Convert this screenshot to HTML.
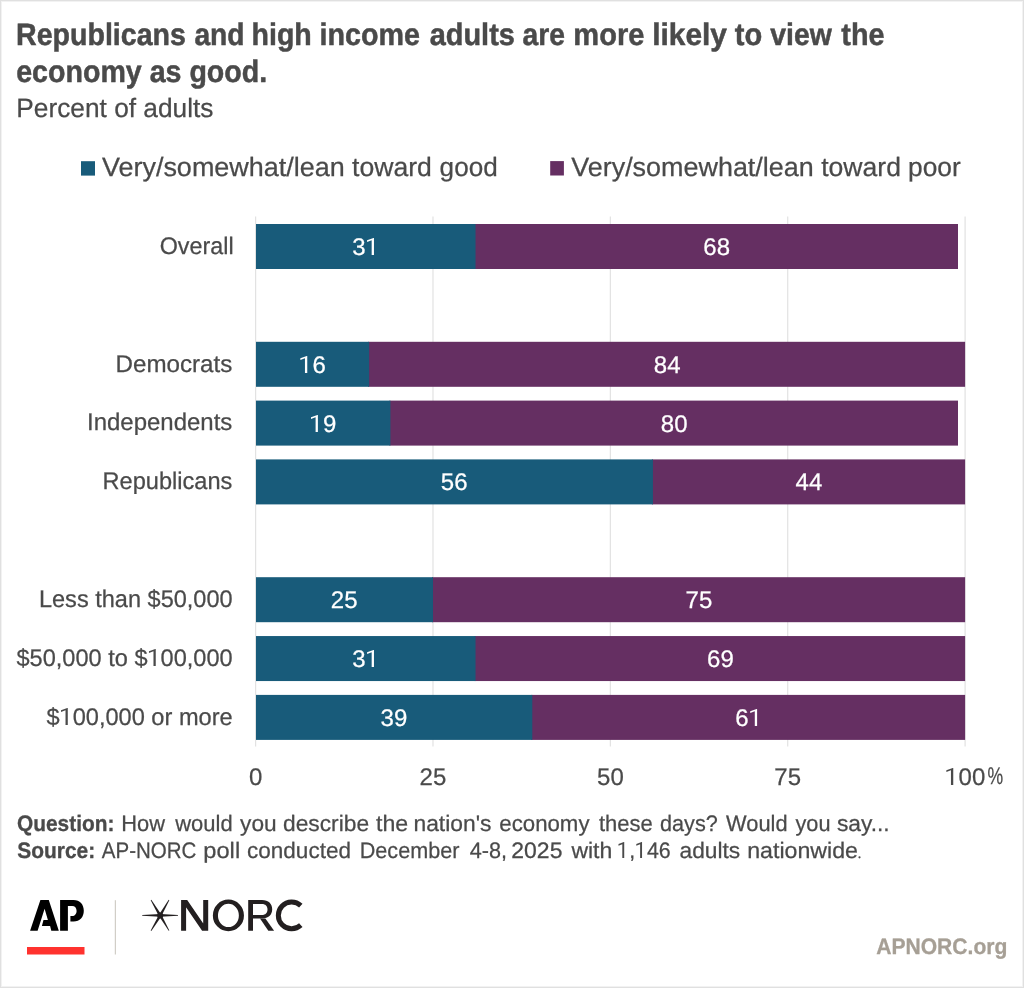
<!DOCTYPE html>
<html><head><meta charset="utf-8"><title>Republicans and high income adults are more likely to view the economy as good.</title><style>
html,body{margin:0;padding:0;background:#fff;}
body{width:1024px;height:988px;overflow:hidden;position:relative;}
svg{position:absolute;left:0;top:0;font-family:"Liberation Sans",sans-serif;text-rendering:geometricPrecision;will-change:transform;}
.frame{position:absolute;left:0;top:0;width:1024px;height:988px;box-shadow:inset 0 0 0 1px #e0e0e0, inset 0 0 0 2px #f2f2f2;}
</style></head><body>
<svg width="1024" height="988" viewBox="0 0 1024 988">
<rect x="255.00" y="216.5" width="1.2" height="530" fill="#e2e2e2"/>
<rect x="432.38" y="216.5" width="1.2" height="530" fill="#e2e2e2"/>
<rect x="609.75" y="216.5" width="1.2" height="530" fill="#e2e2e2"/>
<rect x="787.12" y="216.5" width="1.2" height="530" fill="#e2e2e2"/>
<rect x="964.50" y="216.5" width="1.2" height="530" fill="#e2e2e2"/>
<rect x="474.54" y="224.0" width="483.46" height="45" fill="#652f62"/>
<rect x="256.0" y="224.0" width="219.54" height="45" fill="#185b7a"/>
<rect x="368.12" y="341.8" width="596.98" height="45" fill="#652f62"/>
<rect x="256.0" y="341.8" width="113.12" height="45" fill="#185b7a"/>
<rect x="389.40" y="400.6" width="568.60" height="45" fill="#652f62"/>
<rect x="256.0" y="400.6" width="134.40" height="45" fill="#185b7a"/>
<rect x="651.92" y="459.4" width="313.18" height="45" fill="#652f62"/>
<rect x="256.0" y="459.4" width="396.92" height="45" fill="#185b7a"/>
<rect x="431.98" y="577.2" width="533.12" height="45" fill="#652f62"/>
<rect x="256.0" y="577.2" width="176.98" height="45" fill="#185b7a"/>
<rect x="474.54" y="636.05" width="490.56" height="45" fill="#652f62"/>
<rect x="256.0" y="636.05" width="219.54" height="45" fill="#185b7a"/>
<rect x="531.30" y="694.9" width="433.80" height="45" fill="#652f62"/>
<rect x="256.0" y="694.9" width="276.30" height="45" fill="#185b7a"/>
<rect x="81" y="161.2" width="14" height="14.4" fill="#185b7a"/>
<rect x="550.2" y="161.1" width="13.7" height="14.4" fill="#652f62"/>
<path d="M30.1,930.7 L40.4,900.1 L48.8,900.1 L58.8,930.7 L51.3,930.7 L50.1,925.9 L41.9,925.9 L43.5,920.1 L47.9,920.1 L44.6,908.8 L37.6,930.7 Z" fill="#000"/>
<path d="M60.1,900.1 L73.5,900.1 C80,900.1 83.8,904.5 83.8,910.85 C83.8,917.2 80,921.6 73.5,921.6 L70.4,921.6 L70.4,915.9 L72.25,915.9 C74.8,915.9 76.6,913.8 76.6,910.9 C76.6,908 74.8,906 72.25,906 L67.9,906 L67.9,930.7 L60.1,930.7 Z" fill="#000"/>
<rect x="27" y="947" width="57.5" height="7.5" fill="#ff322e"/>
<rect x="114.8" y="900.2" width="1.1" height="54.3" fill="#cdc9c1"/>
<polygon points="160.20,914.05 142.20,915.05 142.20,915.75 160.20,916.75" fill="#231f20"/>
<polygon points="160.20,916.75 178.00,915.75 178.00,915.05 160.20,914.05" fill="#231f20"/>
<polygon points="161.44,914.66 151.30,899.82 150.70,900.18 158.96,916.14" fill="#231f20"/>
<polygon points="161.46,916.12 169.30,900.17 168.70,899.83 158.94,914.68" fill="#231f20"/>
<polygon points="158.96,914.65 150.70,930.52 151.30,930.88 161.44,916.15" fill="#231f20"/>
<polygon points="158.94,916.12 168.70,930.87 169.30,930.53 161.46,914.68" fill="#231f20"/>
<circle cx="160.2" cy="915.4" r="3.0" fill="#231f20"/>
<path d="M181.1,900 L186.1,900 L186.1,930.8 L181.1,930.8 Z M203.2,900 L208.2,900 L208.2,930.8 L203.2,930.8 Z M181.1,900 L187.2,900 L208.2,930.8 L202.1,930.8 Z" fill="#231f20"/>
<path d="M212.86,915.38 A15.55,15.83 0 1 0 243.96,915.38 A15.55,15.83 0 1 0 212.86,915.38 Z M217.96,915.45 A10.45,11.6 0 1 0 238.86,915.45 A10.45,11.6 0 1 0 217.96,915.45 Z" fill="#231f20" fill-rule="evenodd"/>
<path d="M248.2,900.1 L262,900.1 C268.5,900.1 272.2,903.8 272.2,909.35 C272.2,915 268.3,918.6 262,918.6 L253.0,918.6 L253.0,930.7 L248.2,930.7 Z M253.0,904.1 L253.0,915 L262,915 C265.4,915 267.5,912.8 267.5,909.5 C267.5,906.2 265.4,904.1 262,904.1 Z" fill="#231f20" fill-rule="evenodd"/>
<path d="M260,918.4 L265.4,918.4 L274.1,930.7 L268.3,930.7 Z" fill="#231f20"/>
<path d="M300.80,905.64 A13.35,13.35 0 1 0 300.80,925.16" fill="none" stroke="#231f20" stroke-width="5"/>
<circle cx="859.5" cy="857.3" r="1.1" fill="#4a4a4a"/>
<text transform="translate(16.18,82.00) scale(0.9223,1)" font-size="31" font-weight="bold" fill="#4a4a4a" stroke="#4a4a4a" stroke-width="0.5">economy as good.</text>
<text transform="translate(16.32,117.00) scale(0.9913,1)" font-size="26.5" font-weight="normal" fill="#4a4a4a" stroke="#4a4a4a" stroke-width="0.25">Percent of adults</text>
<text transform="translate(17.00,831.00) scale(0.9327,1)" font-size="22.4" font-weight="bold" fill="#4a4a4a" stroke="#4a4a4a" stroke-width="0.3">Question:</text>
<text transform="translate(17.20,858.00) scale(0.9352,1)" font-size="22.4" font-weight="bold" fill="#4a4a4a" stroke="#4a4a4a" stroke-width="0.3">Source:</text>
<text transform="translate(876.20,954.00) scale(0.9413,1)" font-size="22.4" font-weight="bold" fill="#a69f95" stroke="#a69f95" stroke-width="0.3">APNORC.org</text>
<text transform="translate(16.02,45.00) scale(0.9214,1)" font-size="31" font-weight="bold" fill="#4a4a4a" stroke="#4a4a4a" stroke-width="0.5">Republicans</text>
<text transform="translate(194.40,45.00) scale(0.9102,1)" font-size="31" font-weight="bold" fill="#4a4a4a" stroke="#4a4a4a" stroke-width="0.5">and</text>
<text transform="translate(251.56,45.00) scale(0.9202,1)" font-size="31" font-weight="bold" fill="#4a4a4a" stroke="#4a4a4a" stroke-width="0.5">high</text>
<text transform="translate(319.55,45.00) scale(0.9248,1)" font-size="31" font-weight="bold" fill="#4a4a4a" stroke="#4a4a4a" stroke-width="0.5">income</text>
<text transform="translate(429.70,45.00) scale(0.9328,1)" font-size="31" font-weight="bold" fill="#4a4a4a" stroke="#4a4a4a" stroke-width="0.5">adults</text>
<text transform="translate(522.50,45.00) scale(0.9114,1)" font-size="31" font-weight="bold" fill="#4a4a4a" stroke="#4a4a4a" stroke-width="0.5">are</text>
<text transform="translate(573.33,45.00) scale(0.9366,1)" font-size="31" font-weight="bold" fill="#4a4a4a" stroke="#4a4a4a" stroke-width="0.5">more</text>
<text transform="translate(652.27,45.00) scale(0.9631,1)" font-size="31" font-weight="bold" fill="#4a4a4a" stroke="#4a4a4a" stroke-width="0.5">likely</text>
<text transform="translate(734.70,45.00) scale(0.9374,1)" font-size="31" font-weight="bold" fill="#4a4a4a" stroke="#4a4a4a" stroke-width="0.5">to</text>
<text transform="translate(770.25,45.00) scale(0.9142,1)" font-size="31" font-weight="bold" fill="#4a4a4a" stroke="#4a4a4a" stroke-width="0.5">view</text>
<text transform="translate(841.35,45.00) scale(0.9285,1)" font-size="31" font-weight="bold" fill="#4a4a4a" stroke="#4a4a4a" stroke-width="0.5">the</text>
<text transform="translate(121.32,831.00) scale(0.9771,1)" font-size="22.4" font-weight="normal" fill="#4a4a4a" stroke="#4a4a4a" stroke-width="0.25">How</text>
<text transform="translate(175.23,831.00) scale(0.9822,1)" font-size="22.4" font-weight="normal" fill="#4a4a4a" stroke="#4a4a4a" stroke-width="0.25">would</text>
<text transform="translate(240.10,831.00) scale(1.0130,1)" font-size="22.4" font-weight="normal" fill="#4a4a4a" stroke="#4a4a4a" stroke-width="0.25">you</text>
<text transform="translate(283.00,831.00) scale(1.0169,1)" font-size="22.4" font-weight="normal" fill="#4a4a4a" stroke="#4a4a4a" stroke-width="0.25">describe</text>
<text transform="translate(376.00,831.00) scale(1.0335,1)" font-size="22.4" font-weight="normal" fill="#4a4a4a" stroke="#4a4a4a" stroke-width="0.25">the</text>
<text transform="translate(413.48,831.00) scale(1.0195,1)" font-size="22.4" font-weight="normal" fill="#4a4a4a" stroke="#4a4a4a" stroke-width="0.25">nation's</text>
<text transform="translate(499.30,831.00) scale(0.9928,1)" font-size="22.4" font-weight="normal" fill="#4a4a4a" stroke="#4a4a4a" stroke-width="0.25">economy</text>
<text transform="translate(598.90,831.00) scale(0.9812,1)" font-size="22.4" font-weight="normal" fill="#4a4a4a" stroke="#4a4a4a" stroke-width="0.25">these</text>
<text transform="translate(660.00,831.00) scale(0.9663,1)" font-size="22.4" font-weight="normal" fill="#4a4a4a" stroke="#4a4a4a" stroke-width="0.25">days?</text>
<text transform="translate(726.10,831.00) scale(0.9743,1)" font-size="22.4" font-weight="normal" fill="#4a4a4a" stroke="#4a4a4a" stroke-width="0.25">Would</text>
<text transform="translate(795.50,831.00) scale(0.9698,1)" font-size="22.4" font-weight="normal" fill="#4a4a4a" stroke="#4a4a4a" stroke-width="0.25">you</text>
<text transform="translate(836.90,831.00) scale(1.0173,1)" font-size="22.4" font-weight="normal" fill="#4a4a4a" stroke="#4a4a4a" stroke-width="0.25">say...</text>
<text transform="translate(101.80,858.00) scale(0.9158,1)" font-size="22.4" font-weight="normal" fill="#4a4a4a" stroke="#4a4a4a" stroke-width="0.25">AP-NORC</text>
<text transform="translate(203.34,858.00) scale(1.0554,1)" font-size="22.4" font-weight="normal" fill="#4a4a4a" stroke="#4a4a4a" stroke-width="0.25">poll</text>
<text transform="translate(247.00,858.00) scale(1.0061,1)" font-size="22.4" font-weight="normal" fill="#4a4a4a" stroke="#4a4a4a" stroke-width="0.25">conducted</text>
<text transform="translate(359.74,858.00) scale(0.9647,1)" font-size="22.4" font-weight="normal" fill="#4a4a4a" stroke="#4a4a4a" stroke-width="0.25">December</text>
<text transform="translate(469.80,858.00) scale(0.9662,1)" font-size="22.4" font-weight="normal" fill="#4a4a4a" stroke="#4a4a4a" stroke-width="0.25">4-8,</text>
<text transform="translate(511.27,858.00) scale(1.0267,1)" font-size="22.4" font-weight="normal" fill="#4a4a4a" stroke="#4a4a4a" stroke-width="0.25">2025</text>
<text transform="translate(571.38,858.00) scale(1.0276,1)" font-size="22.4" font-weight="normal" fill="#4a4a4a" stroke="#4a4a4a" stroke-width="0.25">with</text>
<text transform="translate(617.25,858.00) scale(0.9537,1)" font-size="22.4" font-weight="normal" fill="#4a4a4a" stroke="#4a4a4a" stroke-width="0.25"> , 46</text>
<text transform="translate(679.50,858.00) scale(1.0159,1)" font-size="22.4" font-weight="normal" fill="#4a4a4a" stroke="#4a4a4a" stroke-width="0.25">adults</text>
<text transform="translate(747.16,858.00) scale(1.0350,1)" font-size="22.4" font-weight="normal" fill="#4a4a4a" stroke="#4a4a4a" stroke-width="0.25">nationwide</text>
<text transform="translate(101.90,176.00) scale(1.0181,1)" font-size="26.5" font-weight="normal" fill="#4a4a4a" stroke="#4a4a4a" stroke-width="0.25">Very/somewhat/lean</text>
<text transform="translate(352.00,176.00) scale(1.0038,1)" font-size="26.5" font-weight="normal" fill="#4a4a4a" stroke="#4a4a4a" stroke-width="0.25">toward</text>
<text transform="translate(439.61,176.00) scale(0.9858,1)" font-size="26.5" font-weight="normal" fill="#4a4a4a" stroke="#4a4a4a" stroke-width="0.25">good</text>
<text transform="translate(571.25,176.00) scale(1.0162,1)" font-size="26.5" font-weight="normal" fill="#4a4a4a" stroke="#4a4a4a" stroke-width="0.25">Very/somewhat/lean</text>
<text transform="translate(821.20,176.00) scale(1.0032,1)" font-size="26.5" font-weight="normal" fill="#4a4a4a" stroke="#4a4a4a" stroke-width="0.25">toward</text>
<text transform="translate(908.01,176.00) scale(0.9940,1)" font-size="26.5" font-weight="normal" fill="#4a4a4a" stroke="#4a4a4a" stroke-width="0.25">poor</text>
<text transform="translate(159.73,254.00) scale(0.9717,1)" font-size="24" font-weight="normal" fill="#4a4a4a" stroke="#4a4a4a" stroke-width="0.25">Overall</text>
<text transform="translate(115.49,372.00) scale(1.0067,1)" font-size="24" font-weight="normal" fill="#4a4a4a" stroke="#4a4a4a" stroke-width="0.25">Democrats</text>
<text transform="translate(87.00,430.00) scale(0.9989,1)" font-size="24" font-weight="normal" fill="#4a4a4a" stroke="#4a4a4a" stroke-width="0.25">Independents</text>
<text transform="translate(102.52,489.00) scale(0.9826,1)" font-size="24" font-weight="normal" fill="#4a4a4a" stroke="#4a4a4a" stroke-width="0.25">Republicans</text>
<text transform="translate(38.92,607.00) scale(0.9809,1)" font-size="24" font-weight="normal" fill="#4a4a4a" stroke="#4a4a4a" stroke-width="0.25">Less than $50,000</text>
<text transform="translate(16.50,666.00) scale(0.9815,1)" font-size="24" font-weight="normal" fill="#4a4a4a" stroke="#4a4a4a" stroke-width="0.25">$50,000 to $ 00,000</text>
<text transform="translate(46.40,725.00) scale(0.9830,1)" font-size="24" font-weight="normal" fill="#4a4a4a" stroke="#4a4a4a" stroke-width="0.25">$ 00,000 or more</text>
<text transform="translate(352.15,255.00) scale(1.0000,1)" font-size="24" font-weight="normal" fill="#fff" stroke="#fff" stroke-width="0.25">3</text>
<text transform="translate(703.35,255.00) scale(1.0000,1)" font-size="24" font-weight="normal" fill="#fff" stroke="#fff" stroke-width="0.25">6</text>
<text transform="translate(716.85,255.00) scale(1.0000,1)" font-size="24" font-weight="normal" fill="#fff" stroke="#fff" stroke-width="0.25">8</text>
<text transform="translate(312.44,373.00) scale(1.0000,1)" font-size="24" font-weight="normal" fill="#fff" stroke="#fff" stroke-width="0.25">6</text>
<text transform="translate(653.69,373.00) scale(1.0000,1)" font-size="24" font-weight="normal" fill="#fff" stroke="#fff" stroke-width="0.25">8</text>
<text transform="translate(667.19,373.00) scale(1.0000,1)" font-size="24" font-weight="normal" fill="#fff" stroke="#fff" stroke-width="0.25">4</text>
<text transform="translate(323.08,432.00) scale(1.0000,1)" font-size="24" font-weight="normal" fill="#fff" stroke="#fff" stroke-width="0.25">9</text>
<text transform="translate(660.78,432.00) scale(1.0000,1)" font-size="24" font-weight="normal" fill="#fff" stroke="#fff" stroke-width="0.25">8</text>
<text transform="translate(674.28,432.00) scale(1.0000,1)" font-size="24" font-weight="normal" fill="#fff" stroke="#fff" stroke-width="0.25">0</text>
<text transform="translate(440.84,490.00) scale(1.0000,1)" font-size="24" font-weight="normal" fill="#fff" stroke="#fff" stroke-width="0.25">5</text>
<text transform="translate(454.34,490.00) scale(1.0000,1)" font-size="24" font-weight="normal" fill="#fff" stroke="#fff" stroke-width="0.25">6</text>
<text transform="translate(795.59,490.00) scale(1.0000,1)" font-size="24" font-weight="normal" fill="#fff" stroke="#fff" stroke-width="0.25">4</text>
<text transform="translate(809.09,490.00) scale(1.0000,1)" font-size="24" font-weight="normal" fill="#fff" stroke="#fff" stroke-width="0.25">4</text>
<text transform="translate(330.86,608.00) scale(1.0000,1)" font-size="24" font-weight="normal" fill="#fff" stroke="#fff" stroke-width="0.25">2</text>
<text transform="translate(344.36,608.00) scale(1.0000,1)" font-size="24" font-weight="normal" fill="#fff" stroke="#fff" stroke-width="0.25">5</text>
<text transform="translate(685.61,608.00) scale(1.0000,1)" font-size="24" font-weight="normal" fill="#fff" stroke="#fff" stroke-width="0.25">7</text>
<text transform="translate(699.11,608.00) scale(1.0000,1)" font-size="24" font-weight="normal" fill="#fff" stroke="#fff" stroke-width="0.25">5</text>
<text transform="translate(352.15,667.00) scale(1.0000,1)" font-size="24" font-weight="normal" fill="#fff" stroke="#fff" stroke-width="0.25">3</text>
<text transform="translate(706.90,667.00) scale(1.0000,1)" font-size="24" font-weight="normal" fill="#fff" stroke="#fff" stroke-width="0.25">6</text>
<text transform="translate(720.40,667.00) scale(1.0000,1)" font-size="24" font-weight="normal" fill="#fff" stroke="#fff" stroke-width="0.25">9</text>
<text transform="translate(380.53,726.00) scale(1.0000,1)" font-size="24" font-weight="normal" fill="#fff" stroke="#fff" stroke-width="0.25">3</text>
<text transform="translate(394.03,726.00) scale(1.0000,1)" font-size="24" font-weight="normal" fill="#fff" stroke="#fff" stroke-width="0.25">9</text>
<text transform="translate(735.28,726.00) scale(1.0000,1)" font-size="24" font-weight="normal" fill="#fff" stroke="#fff" stroke-width="0.25">6</text>
<text transform="translate(248.93,785.00) scale(1.0000,1)" font-size="24" font-weight="normal" fill="#4a4a4a" stroke="#4a4a4a" stroke-width="0.25">0</text>
<text transform="translate(419.55,785.00) scale(1.0000,1)" font-size="24" font-weight="normal" fill="#4a4a4a" stroke="#4a4a4a" stroke-width="0.25">2</text>
<text transform="translate(433.05,785.00) scale(1.0000,1)" font-size="24" font-weight="normal" fill="#4a4a4a" stroke="#4a4a4a" stroke-width="0.25">5</text>
<text transform="translate(596.93,785.00) scale(1.0000,1)" font-size="24" font-weight="normal" fill="#4a4a4a" stroke="#4a4a4a" stroke-width="0.25">5</text>
<text transform="translate(610.43,785.00) scale(1.0000,1)" font-size="24" font-weight="normal" fill="#4a4a4a" stroke="#4a4a4a" stroke-width="0.25">0</text>
<text transform="translate(774.30,785.00) scale(1.0000,1)" font-size="24" font-weight="normal" fill="#4a4a4a" stroke="#4a4a4a" stroke-width="0.25">7</text>
<text transform="translate(787.80,785.00) scale(1.0000,1)" font-size="24" font-weight="normal" fill="#4a4a4a" stroke="#4a4a4a" stroke-width="0.25">5</text>
<text transform="translate(958.43,785.00) scale(1.0000,1)" font-size="24" font-weight="normal" fill="#4a4a4a" stroke="#4a4a4a" stroke-width="0.25">0</text>
<text transform="translate(971.93,785.00) scale(1.0000,1)" font-size="24" font-weight="normal" fill="#4a4a4a" stroke="#4a4a4a" stroke-width="0.25">0</text>
<text transform="translate(987.60,784.00) scale(0.7333,1)" font-size="24" font-weight="normal" fill="#4a4a4a" stroke="#4a4a4a" stroke-width="0.25">%</text>
<path d="M373.97,238 L373.97,255 L371.67,255 L371.67,240.30 L367.07,241.90 L367.07,240.20 L373.47,238 Z" fill="#fff"/>
<path d="M307.26,356 L307.26,373 L304.96,373 L304.96,358.30 L300.36,359.90 L300.36,358.20 L306.76,356 Z" fill="#fff"/>
<path d="M317.90,415 L317.90,432 L315.60,432 L315.60,417.30 L311.00,418.90 L311.00,417.20 L317.40,415 Z" fill="#fff"/>
<path d="M373.97,650 L373.97,667 L371.67,667 L371.67,652.30 L367.07,653.90 L367.07,652.20 L373.47,650 Z" fill="#fff"/>
<path d="M757.10,709 L757.10,726 L754.80,726 L754.80,711.30 L750.20,712.90 L750.20,711.20 L756.60,709 Z" fill="#fff"/>
<path d="M953.25,768 L953.25,785 L950.95,785 L950.95,770.30 L946.35,771.90 L946.35,770.20 L952.75,768 Z" fill="#4a4a4a"/>
<path d="M624.22,842 L624.22,858 L622.31,858 L622.31,844.16 L618.49,845.67 L618.49,844.07 L623.81,842 Z" fill="#4a4a4a"/>
<path d="M642.04,842 L642.04,858 L640.12,858 L640.12,844.16 L636.30,845.67 L636.30,844.07 L641.62,842 Z" fill="#4a4a4a"/>
<path d="M155.74,649 L155.74,666 L153.48,666 L153.48,651.30 L148.96,652.90 L148.96,651.20 L155.25,649 Z" fill="#4a4a4a"/>
<path d="M67.78,708 L67.78,725 L65.52,725 L65.52,710.30 L60.99,711.90 L60.99,710.20 L67.29,708 Z" fill="#4a4a4a"/>
</svg>
<div class="frame"></div>
</body></html>
